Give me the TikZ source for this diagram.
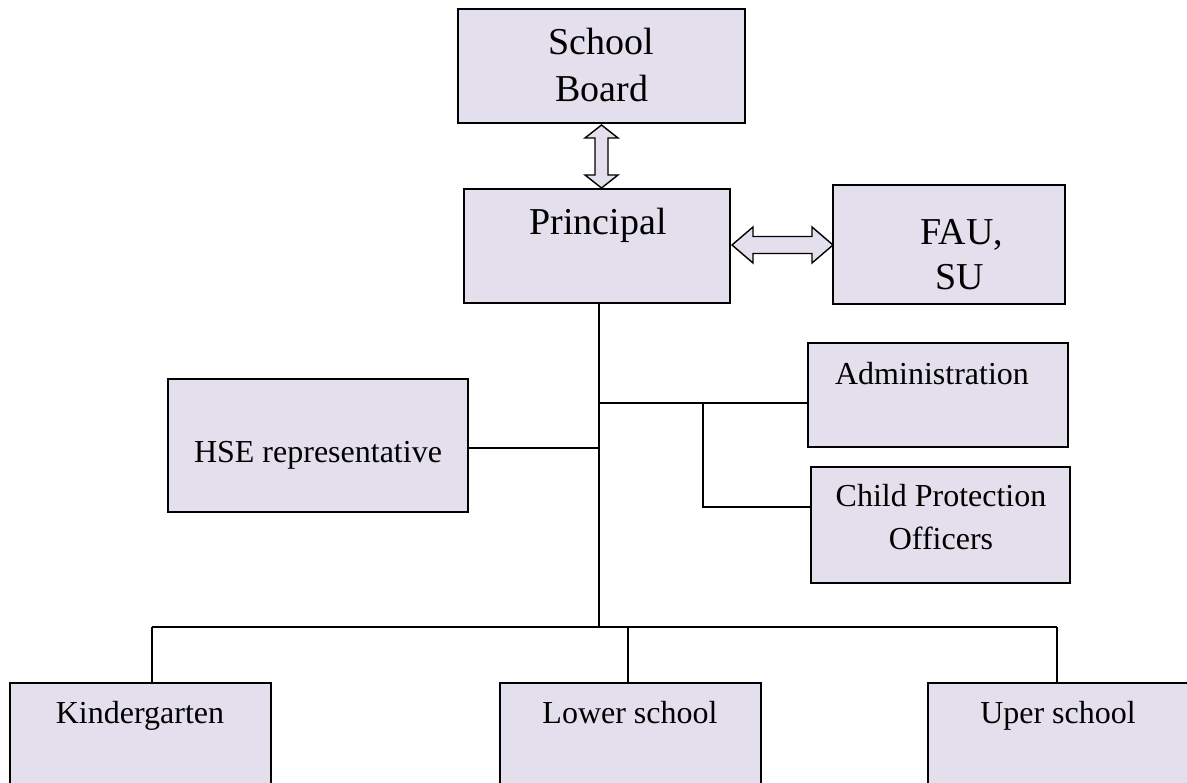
\documentclass[tikz,border=0pt]{standalone}
\usepackage{fontspec}
\setmainfont{Liberation Serif}
\usetikzlibrary{calc}
\definecolor{boxfill}{HTML}{E4DFEC}
\tikzset{
  boxst/.style={draw=black, line width=1.8pt, fill=boxfill, rectangle, inner sep=0pt, outer sep=0pt, anchor=north west},
  bigtxt/.style={anchor=base, inner sep=0pt, font=\fontsize{38}{46}\selectfont},
  smalltxt/.style={anchor=base, inner sep=0pt, font=\fontsize{32}{40}\selectfont},
  conn/.style={draw=black, line width=1.6pt},
  arrowst/.style={draw=black, line width=1.4pt, fill=boxfill, line join=miter}
}
\begin{document}
\begin{tikzpicture}[x=1pt, y=-1pt]
\useasboundingbox (0,0) rectangle (1187,783);

% boxes
\node[boxst, minimum width=287pt, minimum height=114pt] (board) at (458,9) {};
\node[boxst, minimum width=266pt, minimum height=114pt] (principal) at (464,189) {};
\node[boxst, minimum width=232pt, minimum height=119pt] (fau) at (833,185) {};
\node[boxst, minimum width=300pt, minimum height=133pt] (hse) at (168,379) {};
\node[boxst, minimum width=260pt, minimum height=104pt] (admin) at (808,343) {};
\node[boxst, minimum width=259pt, minimum height=116pt] (cpo) at (811,467) {};
\node[boxst, minimum width=261pt, minimum height=120pt] (kg) at (10,683) {};
\node[boxst, minimum width=261pt, minimum height=120pt] (lower) at (500,683) {};
\node[boxst, minimum width=261pt, minimum height=120pt] (upper) at (928,683) {};

% texts
\node[bigtxt] (t1) at (601,55) {School};
\node[bigtxt] (t2) at (602,102) {Board};
\node[bigtxt] (t3) at (598,235) {Principal};
\node[bigtxt] (t4) at (962,245) {FAU,};
\node[bigtxt] (t5) at (960,290) {SU};
\node[smalltxt] (t6) at (932,385) {Administration};
\node[smalltxt] (t7) at (941,507) {Child Protection};
\node[smalltxt] (t8) at (941,550) {Officers};
\node[smalltxt] (t9) at (318,463) {HSE representative};
\node[smalltxt] (t10) at (140,723) {Kindergarten};
\node[smalltxt] (t11) at (630,723) {Lower school};
\node[smalltxt] (t12) at (1058,723) {Uper school};

% junction coordinates
\coordinate (jb) at (599,627);
\coordinate (ja) at (599,403);
\coordinate (jh) at (599,448);
\coordinate (jc) at (703,403);
\coordinate (jd) at (703,507);
\coordinate (dk) at (152,627);
\coordinate (dl) at (628,627);
\coordinate (du) at (1057,627);

% connectors
\draw[conn] (principal.south -| jb) -- (jb);
\draw[conn] (jh -| hse.east) -- (jh);
\draw[conn] (ja) -- (ja -| admin.west);
\draw[conn] (jc) -- (jd) -- (jd -| cpo.west);
\draw[conn] (dk) -- (du);
\draw[conn] (dk) -- (dk |- kg.north);
\draw[conn] (dl) -- (dl |- lower.north);
\draw[conn] (du) -- (du |- upper.north);

% double arrows
\coordinate (va) at (601.5,125);
\coordinate (vb) at (601.5,188);
\draw[arrowst] (va) -- ++(16.5,13) -- ++(-10,0) -- ($(vb)+(6.5,-13)$) -- ++(10,0) -- (vb)
  -- ++(-16.5,-13) -- ++(10,0) -- ($(va)+(-6.5,13)$) -- ++(-10,0) -- cycle;
\coordinate (ha) at (732,245);
\coordinate (hb) at (833,245);
\draw[arrowst] (ha) -- ++(21,-18) -- ++(0,9.5) -- ($(hb)+(-21,-8.5)$) -- ++(0,-9.5) -- (hb)
  -- ++(-21,18) -- ++(0,-9.5) -- ($(ha)+(21,8.5)$) -- ++(0,9.5) -- cycle;
\end{tikzpicture}
\end{document}
